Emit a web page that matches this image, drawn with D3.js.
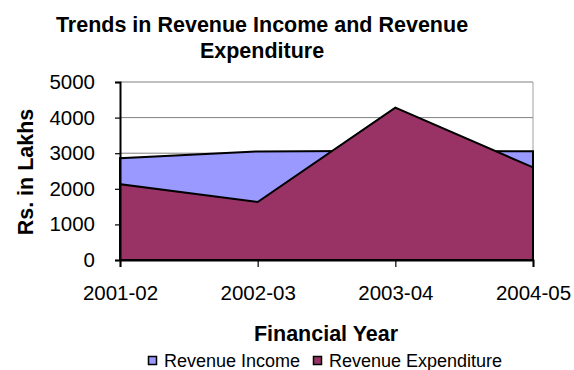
<!DOCTYPE html>
<html>
<head>
<meta charset="utf-8">
<script src="https://cdn.jsdelivr.net/npm/d3@7"></script>
<style>
  html, body { margin: 0; padding: 0; background: #fff; }
  svg { display: block; font-family: "Liberation Sans", Arial, sans-serif; }
</style>
</head>
<body>
<svg id="chart" width="574" height="370"></svg>
<script>
// Revenue figures, Rs. in Lakhs
const years = ["2001-02", "2002-03", "2003-04", "2004-05"];
const revenueIncome = [2860, 3050, 3070, 3055];
const revenueExpenditure = [2130, 1630, 4280, 2600];
const yTicks = [0, 1000, 2000, 3000, 4000, 5000];
const seriesNames = ["Revenue Income", "Revenue Expenditure"];
const seriesColors = ["#9999FF", "#993366"];

const svg = d3.select("#chart");
const plot = { left: 120, right: 533, top: 82, bottom: 260 };

const x = d3.scalePoint().domain(years).range([plot.left, plot.right]);
const y = d3.scaleLinear().domain([0, 5000]).range([plot.bottom, plot.top]);

// Title
const title = svg.append("text")
  .attr("text-anchor", "middle")
  .attr("font-size", 21.5)
  .attr("font-weight", "bold")
  .attr("fill", "#000");
title.append("tspan").attr("x", 262).attr("y", 32).text("Trends in Revenue Income and Revenue");
title.append("tspan").attr("x", 262).attr("y", 58).text("Expenditure");

// Horizontal gridlines
svg.append("g")
  .selectAll("line")
  .data(yTicks.filter(d => d > 0))
  .join("line")
  .attr("x1", plot.left).attr("x2", plot.right)
  .attr("y1", d => y(d)).attr("y2", d => y(d))
  .attr("stroke", "#808080")
  .attr("stroke-width", 1);

// Right border of plot area
svg.append("line")
  .attr("x1", plot.right).attr("x2", plot.right)
  .attr("y1", plot.top).attr("y2", plot.bottom)
  .attr("stroke", "#a0a0a0").attr("stroke-width", 1);

// Overlapping areas (income behind, expenditure in front)
const area = vals => d3.area()
  .x((d, i) => x(years[i]))
  .y0(y(0))
  .y1(d => y(d))(vals);

const areaOutline = vals => {
  const pts = vals.map((d, i) => [x(years[i]), y(d)]);
  return "M" + [[x(years[0]), y(0)], ...pts, [x(years[years.length - 1]), y(0)]]
    .map(p => p.join(",")).join("L") + "Z";
};

[revenueIncome, revenueExpenditure].forEach((vals, k) => {
  svg.append("path")
    .attr("d", area(vals))
    .attr("fill", seriesColors[k]);
  svg.append("path")
    .attr("d", areaOutline(vals))
    .attr("fill", "none")
    .attr("stroke", "#000")
    .attr("stroke-width", 2)
    .attr("stroke-linejoin", "miter");
});

// Y axis
const yAxis = svg.append("g")
  .attr("transform", `translate(${plot.left},0)`)
  .call(d3.axisLeft(y).tickValues(yTicks).tickSize(5).tickPadding(20).tickFormat(d3.format("d")));
yAxis.select(".domain").attr("stroke", "#000").attr("stroke-width", 2);
yAxis.selectAll(".tick line").attr("stroke", "#000").attr("stroke-width", 1.2);
yAxis.selectAll(".tick text")
  .attr("font-size", 20.5)
  .attr("font-family", "Liberation Sans, Arial, sans-serif")
  .attr("fill", "#000");

// X axis
const xAxis = svg.append("g")
  .attr("transform", `translate(0,${plot.bottom})`)
  .call(d3.axisBottom(x).tickSize(7).tickPadding(18));
xAxis.select(".domain").attr("stroke", "#000").attr("stroke-width", 2);
xAxis.selectAll(".tick line").attr("stroke", "#000").attr("stroke-width", 1.2);
xAxis.selectAll(".tick text")
  .attr("font-size", 20.5)
  .attr("font-family", "Liberation Sans, Arial, sans-serif")
  .attr("fill", "#000");

// Axis titles
svg.append("text")
  .attr("transform", "translate(32.5,172) rotate(-90)")
  .attr("text-anchor", "middle")
  .attr("font-size", 21.5)
  .attr("font-weight", "bold")
  .text("Rs. in Lakhs");

svg.append("text")
  .attr("x", 326).attr("y", 341)
  .attr("text-anchor", "middle")
  .attr("font-size", 21.5)
  .attr("font-weight", "bold")
  .text("Financial Year");

// Legend
const legendX = [148, 313];
const legend = svg.append("g");
seriesNames.forEach((name, k) => {
  legend.append("rect")
    .attr("x", legendX[k] + 0.5).attr("y", 356.5)
    .attr("width", 8).attr("height", 8)
    .attr("fill", seriesColors[k])
    .attr("stroke", "#000").attr("stroke-width", 1.5);
  legend.append("text")
    .attr("x", legendX[k] + 16).attr("y", 366.5)
    .attr("font-size", 18)
    .text(name);
});
</script>
</body>
</html>
